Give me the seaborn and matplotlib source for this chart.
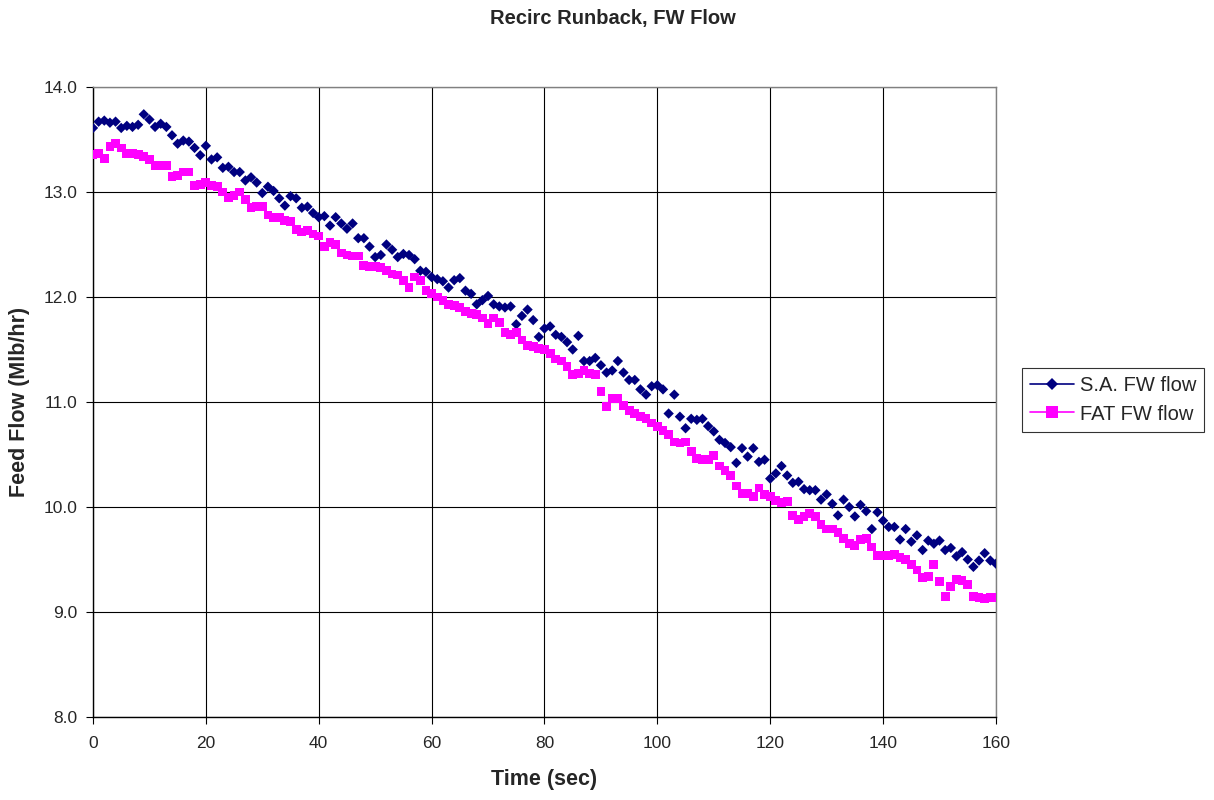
import numpy as np
import pandas as pd
import matplotlib
matplotlib.use("Agg")
import matplotlib.pyplot as plt
from matplotlib.lines import Line2D
from matplotlib.ticker import FormatStrFormatter, MultipleLocator
import seaborn as sns

time_sec = list(range(0, 161))

sa_flow = [
    13.61, 13.67, 13.68, 13.66, 13.67, 13.61, 13.63, 13.62, 13.64, 13.74, 13.69,
    13.62, 13.65, 13.62, 13.54, 13.46, 13.49, 13.48, 13.42, 13.35, 13.44,
    13.31, 13.33, 13.23, 13.24, 13.19, 13.19, 13.11, 13.14, 13.09, 12.99,
    13.05, 13.01, 12.94, 12.87, 12.96, 12.94, 12.85, 12.86, 12.80, 12.76,
    12.77, 12.68, 12.76, 12.70, 12.65, 12.70, 12.56, 12.56, 12.48, 12.38,
    12.40, 12.50, 12.45, 12.38, 12.41, 12.40, 12.36, 12.25, 12.24, 12.19,
    12.17, 12.15, 12.09, 12.16, 12.18, 12.06, 12.03, 11.93, 11.97, 12.01,
    11.93, 11.91, 11.90, 11.91, 11.74, 11.82, 11.88, 11.78, 11.62, 11.70,
    11.72, 11.64, 11.62, 11.57, 11.50, 11.63, 11.39, 11.39, 11.42, 11.35,
    11.28, 11.30, 11.39, 11.28, 11.21, 11.21, 11.12, 11.07, 11.15, 11.16,
    11.12, 10.89, 11.07, 10.86, 10.75, 10.84, 10.83, 10.84, 10.77, 10.72,
    10.64, 10.61, 10.57, 10.42, 10.56, 10.48, 10.56, 10.43, 10.45, 10.27,
    10.32, 10.39, 10.30, 10.23, 10.24, 10.17, 10.16, 10.16, 10.07, 10.12,
    10.03, 9.92, 10.07, 10.00, 9.91, 10.02, 9.96, 9.79, 9.95, 9.87,
    9.81, 9.81, 9.69, 9.79, 9.67, 9.73, 9.59, 9.68, 9.65, 9.68,
    9.59, 9.61, 9.53, 9.57, 9.50, 9.43, 9.49, 9.56, 9.49, 9.46,
]

fat_flow = [
    13.36, 13.37, 13.32, 13.43, 13.46, 13.42, 13.37, 13.37, 13.36, 13.34, 13.31,
    13.25, 13.25, 13.25, 13.15, 13.16, 13.19, 13.19, 13.06, 13.07, 13.09,
    13.06, 13.05, 13.00, 12.95, 12.97, 13.00, 12.93, 12.85, 12.86, 12.86,
    12.78, 12.76, 12.76, 12.73, 12.72, 12.64, 12.62, 12.63, 12.60, 12.58,
    12.48, 12.52, 12.50, 12.42, 12.40, 12.39, 12.39, 12.30, 12.29, 12.29,
    12.28, 12.25, 12.22, 12.21, 12.16, 12.09, 12.19, 12.16, 12.06, 12.03,
    12.00, 11.97, 11.93, 11.92, 11.90, 11.86, 11.84, 11.83, 11.80, 11.75,
    11.80, 11.76, 11.66, 11.64, 11.66, 11.59, 11.54, 11.53, 11.51, 11.50,
    11.46, 11.41, 11.39, 11.34, 11.26, 11.27, 11.30, 11.27, 11.26, 11.10,
    10.96, 11.03, 11.03, 10.97, 10.92, 10.89, 10.86, 10.84, 10.80, 10.77,
    10.73, 10.69, 10.62, 10.61, 10.62, 10.53, 10.46, 10.45, 10.45, 10.49,
    10.39, 10.35, 10.30, 10.20, 10.13, 10.13, 10.10, 10.18, 10.12, 10.10,
    10.06, 10.04, 10.05, 9.92, 9.88, 9.91, 9.94, 9.91, 9.83, 9.79,
    9.79, 9.76, 9.70, 9.65, 9.63, 9.69, 9.70, 9.62, 9.54, 9.54,
    9.54, 9.55, 9.52, 9.50, 9.45, 9.40, 9.33, 9.34, 9.45, 9.29,
    9.15, 9.24, 9.31, 9.30, 9.26, 9.15, 9.14, 9.13, 9.14, 9.14,
]

series_names = ["S.A. FW flow", "FAT FW flow"]
series_colors = ["#000080", "#FF00FF"]
series_markers = ["D", "s"]

df = pd.concat([
    pd.DataFrame({"Time": time_sec, "Flow": sa_flow, "Series": series_names[0]}),
    pd.DataFrame({"Time": time_sec, "Flow": fat_flow, "Series": series_names[1]}),
])

sns.set_style("white")
plt.rcParams["font.family"] = ["Liberation Sans", "DejaVu Sans"]

fig = plt.figure(figsize=(12.14, 8.0), dpi=100)
ax = fig.add_axes([0.0766, 0.10375, 0.7438, 0.7875])

for name, color, marker, size in zip(series_names, series_colors, series_markers, [28, 40]):
    sub = df[df["Series"] == name]
    sns.scatterplot(data=sub, x="Time", y="Flow", color=color, marker=marker,
                    s=size, edgecolor="none", linewidth=0, ax=ax, zorder=3,
                    legend=False)

ax.set_xlim(0, 160)
ax.set_ylim(8.0, 14.0)
ax.xaxis.set_major_locator(MultipleLocator(20))
ax.yaxis.set_major_locator(MultipleLocator(1.0))
ax.yaxis.set_major_formatter(FormatStrFormatter("%.1f"))
ax.grid(True, color="black", linewidth=0.8)
ax.set_axisbelow(True)
for sp in ax.spines.values():
    sp.set_color("#808080")
    sp.set_linewidth(1.0)
ax.spines["left"].set_color("black")
ax.spines["bottom"].set_color("black")
ax.tick_params(axis="both", which="major", direction="out", length=5,
               width=0.8, color="black", labelsize=12.5, bottom=True, left=True)
ax.tick_params(axis="x", pad=9)
ax.tick_params(axis="y", pad=6)

ax.set_xlabel("Time (sec)", fontsize=15.5, fontweight="bold", labelpad=13)
ax.set_ylabel("Feed Flow (Mlb/hr)", fontsize=15.5, fontweight="bold", labelpad=10)
fig.text(0.5045, 0.977, "Recirc Runback, FW Flow", ha="center", va="center",
         fontsize=14.5, fontweight="bold")

handles = [Line2D([0], [0], color=c, marker=m, markersize=ms, linewidth=1.2,
                  markeredgewidth=0)
           for c, m, ms in zip(series_colors, series_markers, [6, 8])]
leg = fig.legend(handles, series_names, loc="upper left",
                 bbox_to_anchor=(0.8415, 0.5395), frameon=True, fancybox=False,
                 fontsize=14.5, handlelength=2.2, borderpad=0.4,
                 labelspacing=0.45, handletextpad=0.3, borderaxespad=0)
leg.get_frame().set_edgecolor("black")
leg.get_frame().set_linewidth(0.8)

fig.savefig("out.png", dpi=100)
